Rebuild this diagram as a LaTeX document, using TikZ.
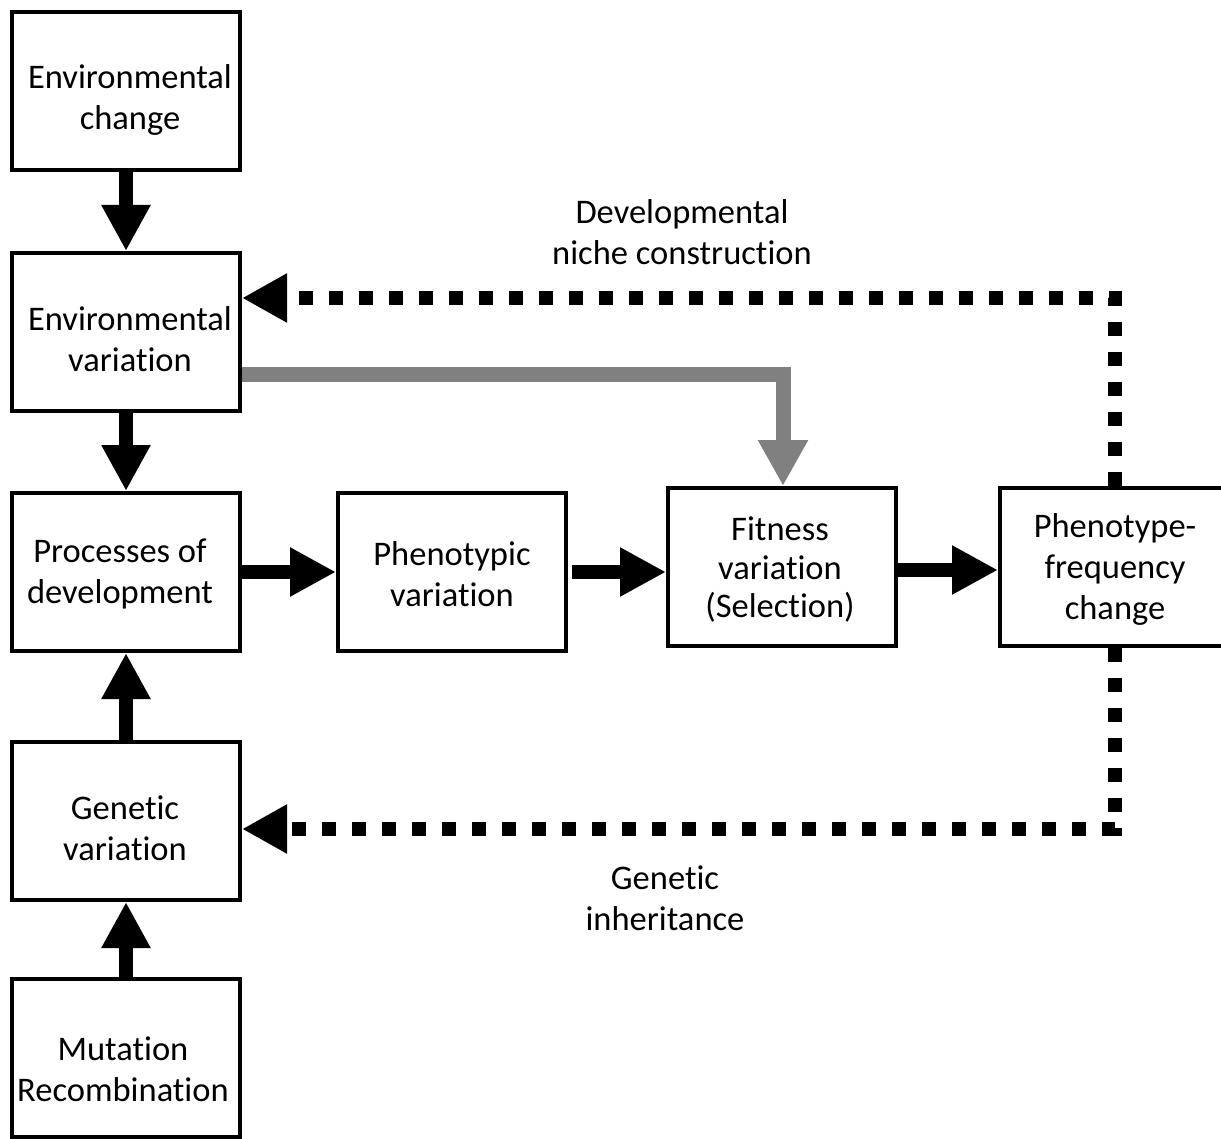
\documentclass[tikz,border=0pt]{standalone}
\usepackage{fontspec}
\setmainfont{Carlito}[Ligatures=NoCommon]
\usetikzlibrary{arrows.meta}
\definecolor{arrowgray}{HTML}{808080}
\begin{document}
\begin{tikzpicture}[x=1pt,y=-1pt,
  txt/.style={font=\fontsize{34.5}{41}\selectfont, align=center, inner sep=0pt},
  box/.style={draw=black, line width=4pt, fill=white, minimum width=228pt, minimum height=158pt, inner sep=0pt},
  blk/.style={draw=black, line width=14pt, -{Triangle[width=46pt,length=46pt]}},
  gry/.style={draw=arrowgray, line width=15pt, line join=miter, -{Triangle[width=47pt,length=46pt]}},
  dotline/.style={draw=black, line width=14pt, dash pattern=on 14pt off 16pt, line join=miter, -{Triangle[width=46pt,length=45pt]}}
]
\clip (0,0) rectangle (1221,1139);
\useasboundingbox (0,0) rectangle (1221,1139);
\fill[white] (0,0) rectangle (1221,1139);

\node[box] (ec) at (126,91) {};
\node[box] (ev) at (126,332) {};
\node[box] (pd) at (126,572) {};
\node[box] (pv) at (452,572) {};
\node[box] (fv) at (782,567) {};
\node[box, minimum width=226pt] (pfc) at (1113,567) {};
\node[box] (gv) at (126,821) {};
\node[box] (mr) at (126,1058) {};

\node[txt] (ect) at (130,100) {Environmental\\change};
\node[txt] (evt) at (130,339) {Environmental\\variation};
\node[txt] (pdt) at (120,574) {Processes of\\development};
\node[txt] (pvt) at (452,574) {Phenotypic\\variation};
\node[txt, font=\fontsize{34.5}{38.5}\selectfont] (fvt) at (780,570) {Fitness\\variation\\(Selection)};
\node[txt] (pfct) at (1115,569) {Phenotype-\\frequency\\change};
\node[txt] (gvt) at (125,828) {Genetic\\variation};
\node[txt] (mrt) at (123,1069) {Mutation\\Recombination};

\node[txt] (dnc) at (682,232) {Developmental\\niche construction};
\node[txt] (gi) at (665,898) {Genetic\\inheritance};

\draw[blk] (ec.south) -- (ev.north);
\draw[blk] (ev.south) -- (pd.north);
\draw[blk] (gv.north) -- (pd.south);
\draw[blk] (mr.north) -- (gv.south);
\draw[blk] (pd.east) -- (pv.west);
\draw[blk] ([xshift=4pt]pv.east) -- (fv.west |- pv.east);
\draw[blk] ([yshift=-3pt]fv.east) -- ([yshift=-3pt]pfc.west);

\coordinate (gcorner) at (783,375);
\draw[gry] (ev.east |- gcorner) -- (gcorner) -- (gcorner |- fv.north);

\coordinate (tcorner) at (1115,298);
\coordinate (bcorner) at (1115,829);
\draw[dotline] (tcorner |- pfc.north) -- (tcorner) -- (ev.east |- tcorner);
\draw[dotline] (bcorner |- pfc.south) -- (bcorner) -- (gv.east |- bcorner);
\end{tikzpicture}
\end{document}
